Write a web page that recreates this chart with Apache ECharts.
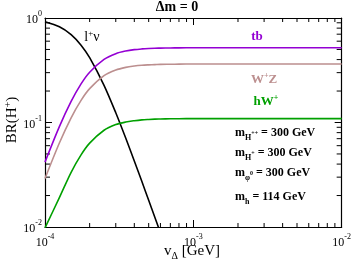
<!DOCTYPE html>
<html><head><meta charset="utf-8">
<script src="https://cdn.jsdelivr.net/npm/echarts@6/dist/echarts.min.js"></script>
<style>html,body{margin:0;padding:0;background:#fff}#c{width:354px;height:266px}</style>
</head><body><div id="c"></div>
<script>
// Data
const vDelta = [1e-4,1.25e-4,1.5e-4,1.75e-4,2e-4,2.5e-4,3e-4,3.5e-4,4e-4,4.5e-4,5e-4,5.5e-4,6e-4,7e-4,8e-4,1e-3,1.5e-3,2e-3,3e-3,5e-3,1e-2];
const brLnu = [0.92,0.824,0.694,0.55,0.417,0.227,0.124,0.071,0.0428,0.0272,0.018,0.0124,0.0088,0.0048,0.0028,null,null,null,null,null,null];
const brTb  = [0.0418,0.0913,0.159,0.234,0.303,0.402,0.456,0.483,0.498,0.506,0.511,0.514,0.515,0.517,0.518,0.519,0.52,0.52,0.52,0.52,0.52];
const brWZ  = [0.0291,0.0637,0.111,0.163,0.211,0.281,0.318,0.337,0.347,0.353,0.356,0.358,0.360,0.361,0.362,0.363,0.363,0.363,0.363,0.363,0.363];
const brHW  = [0.0098,0.0191,0.0334,0.049,0.0635,0.0843,0.0955,0.101,0.104,0.106,0.107,0.1077,0.108,0.1085,0.1087,0.109,0.109,0.109,0.109,0.109,0.109];
const xMin = 1e-4, xMax = 1e-2, yMin = 1e-2, yMax = 1;
const xMinor = [2e-4,3e-4,4e-4,5e-4,6e-4,7e-4,8e-4,9e-4,2e-3,3e-3,4e-3,5e-3,6e-3,7e-3,8e-3,9e-3];
const yMinor = [0.02,0.03,0.04,0.05,0.06,0.07,0.08,0.09,0.2,0.3,0.4,0.5,0.6,0.7,0.8,0.9];

const SERIF = '"Liberation Serif","DejaVu Serif",serif';
const chart = echarts.init(document.getElementById('c'));
const pow10 = v => '{b|10}{s|' + Math.round(Math.log10(v)) + '}';
const tickRich = {b:{fontFamily:SERIF,fontSize:12,color:'#000',verticalAlign:'bottom',lineHeight:16},
                  s:{fontFamily:SERIF,fontSize:8,color:'#000',verticalAlign:'top',lineHeight:16}};
const axisCommon = {axisLine:{lineStyle:{color:'#000',width:1.2}}, splitLine:{show:false},
  axisTick:{inside:true,length:7,lineStyle:{color:'#000'}}, minorTick:{show:false}};
const line = (data, color) => ({type:'line', data: vDelta.map((x,i)=>[x,data[i]]), showSymbol:false, smooth:0.3,
  lineStyle:{color, width:1.6}, clip:true, silent:true});

chart.setOption({
  animation:false,
  grid:{left:45,right:10,top:18,bottom:39},
  xAxis:[
    Object.assign({type:'log',logBase:10,min:xMin,max:xMax,position:'bottom',
      axisLabel:{formatter:pow10,rich:tickRich,margin:6}}, axisCommon),
    Object.assign({type:'log',logBase:10,min:xMin,max:xMax,position:'top',axisLabel:{show:false}}, axisCommon)
  ],
  yAxis:[
    Object.assign({type:'log',logBase:10,min:yMin,max:yMax,position:'left',
      axisLabel:{formatter:pow10,rich:tickRich,margin:3}}, axisCommon),
    Object.assign({type:'log',logBase:10,min:yMin,max:yMax,position:'right',axisLabel:{show:false}}, axisCommon)
  ],
  series:[
    line(brLnu,'#000000'),
    line(brTb,'#9400d3'),
    line(brWZ,'#bc8f8f'),
    line(brHW,'#00a000'),
    {type:'custom', clip:false, silent:true, data: xMinor.map(x=>[x,yMin]),
      renderItem:(p,api)=>{const x=api.value(0); const b=api.coord([x,yMin]); const t=api.coord([x,yMax]);
        return {type:'group',children:[
          {type:'line',shape:{x1:b[0],y1:b[1],x2:b[0],y2:b[1]-4},style:{stroke:'#000',lineWidth:1}},
          {type:'line',shape:{x1:t[0],y1:t[1],x2:t[0],y2:t[1]+4},style:{stroke:'#000',lineWidth:1}}]};}},
    {type:'custom', clip:false, silent:true, data: yMinor.map(y=>[xMin,y]),
      renderItem:(p,api)=>{const y=api.value(1); const l=api.coord([xMin,y]); const r=api.coord([xMax,y]);
        return {type:'group',children:[
          {type:'line',shape:{x1:l[0],y1:l[1],x2:l[0]+5,y2:l[1]},style:{stroke:'#000',lineWidth:1}},
          {type:'line',shape:{x1:r[0],y1:r[1],x2:r[0]-5,y2:r[1]},style:{stroke:'#000',lineWidth:1}}]};}}
  ],
  graphic:[
    {type:'text',left:'center',top:0,style:{text:'Δm = 0',font:'bold 14px '+SERIF,fill:'#000',x:188,textAlign:'center'}},
    {type:'text',x:12,y:120,rotation:Math.PI/2,style:{text:'BR(H{s|+})',rich:{s:{fontSize:10,verticalAlign:'top',lineHeight:18,fontFamily:SERIF}},
      font:'15px '+SERIF,fill:'#000',align:'center',verticalAlign:'middle',lineHeight:18}},
    {type:'text',x:192,y:251,style:{text:'v{s|Δ} [GeV]',rich:{s:{fontSize:10,verticalAlign:'bottom',lineHeight:20,fontFamily:SERIF}},
      font:'15px '+SERIF,fill:'#000',align:'center',verticalAlign:'middle',lineHeight:20}},
    {type:'text',x:92,y:37,style:{text:'l{s|+}ν',rich:{s:{fontSize:9,verticalAlign:'top',lineHeight:16,fontFamily:SERIF}},
      font:'14px '+SERIF,fill:'#000',align:'center',verticalAlign:'middle',lineHeight:16}},
    {type:'text',x:257,y:37,style:{text:'tb',font:'bold 13px '+SERIF,fill:'#9400d3',align:'center',verticalAlign:'middle'}},
    {type:'text',x:264,y:80,style:{text:'W{s|+}Z',rich:{s:{fontSize:8,fontWeight:'bold',verticalAlign:'top',lineHeight:16,fontFamily:SERIF,fill:'#bc8f8f'}},
      font:'bold 13px '+SERIF,fill:'#bc8f8f',align:'center',verticalAlign:'middle',lineHeight:16}},
    {type:'text',x:266,y:102,style:{text:'hW{s|+}',rich:{s:{fontSize:8,fontWeight:'bold',verticalAlign:'top',lineHeight:16,fontFamily:SERIF,fill:'#00a000'}},
      font:'bold 13px '+SERIF,fill:'#00a000',align:'center',verticalAlign:'middle',lineHeight:16}},
    ...[['H','++',133],['H','+',153],['φ','0',173],['h','',197]].map(([sub,sup,y])=>({type:'text',x:235,y:y,
      style:{text:'m{sub|'+sub+'}'+(sup?'{ss|'+sup+'}':'')+' = '+(sub==='h'?'114':'300')+' GeV',
        rich:{sub:{fontSize:8,fontWeight:'bold',verticalAlign:'bottom',lineHeight:18,fontFamily:SERIF},
              ss:{fontSize:6,fontWeight:'bold',verticalAlign:'middle',lineHeight:18,fontFamily:SERIF}},
        font:'bold 12px '+SERIF,fill:'#000',align:'left',verticalAlign:'middle',lineHeight:18}}))
  ]
});
</script></body></html>
